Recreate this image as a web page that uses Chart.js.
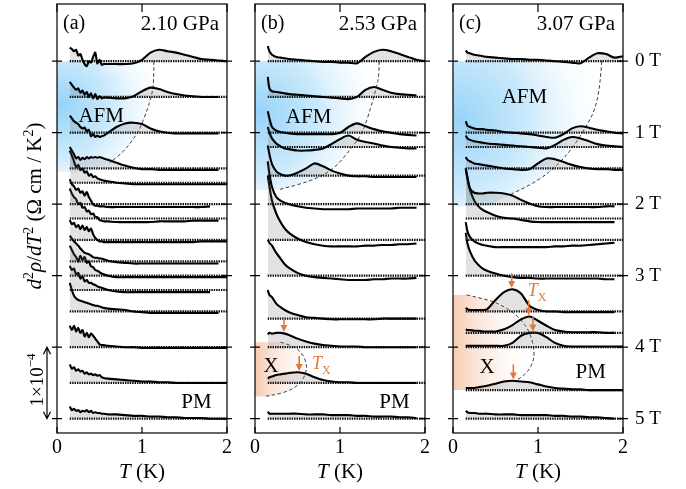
<!DOCTYPE html>
<html>
<head>
<meta charset="utf-8">
<script src="https://cdn.jsdelivr.net/npm/chart.js@4.4.1/dist/chart.umd.min.js"></script>
<style>
  html, body { margin: 0; padding: 0; background: #fff; }
  #wrap { position: relative; width: 686px; height: 489px; overflow: hidden; }
  canvas { position: absolute; top: 0; }
  #ca { left: 0; }
  #cb { left: 240px; }
  #cc { left: 438px; }
</style>
</head>
<body>
<div id="wrap">
  <canvas id="ca" width="240" height="489"></canvas>
  <canvas id="cb" width="198" height="489"></canvas>
  <canvas id="cc" width="248" height="489"></canvas>
</div>
<script>
'use strict'
const SERIF = "'Liberation Serif', 'DejaVu Serif', serif"
const ORANGE = '#e2793a'

// temperature grids (K)
const tGridA = [0.15,0.175,0.2,0.225,0.25,0.275,0.3,0.325,0.35,0.375,0.4,0.425,0.45,0.475,0.5,0.525,0.55,0.6,0.7,0.8,0.9,1.0,1.1,1.2,1.3,1.4,1.5,1.6,1.7,1.8,1.9,2.0]
const tGridBC = [0.15,0.17,0.2,0.25,0.3,0.35,0.4,0.5,0.6,0.7,0.8,0.9,1.0,1.1,1.2,1.3,1.4,1.5,1.6,1.7,1.8,1.9,2.0]

// magnetic field (T) of every trace, each trace sits on its own zero line
const fieldsA = [0,0.5,1.0,1.5,1.7,2.0,2.2,2.5,2.8,3.0,3.2,3.5,4.0,4.5,5.0]
const fieldsB = [0,0.5,1.0,1.2,1.6,2.0,2.5,3.0,3.6,4.0,4.5,5.0]
const fieldsC = [0,1.0,1.2,1.5,2.0,2.2,2.5,3.0,3.5,3.8,4.0,4.6,5.0]

// d2rho/dT2 in units of 1e-4 Ohm cm / K^2, one row per field
const curvesA = [
  [0.19,0.17,0.14,0.16,0.08,0.10,0.02,-0.04,-0.07,0.00,-0.02,0.06,0.12,-0.03,0.02,-0.05,-0.04, -0.04,-0.04,-0.04,-0.03,0.02,0.12,0.16,0.14,0.12,0.09,0.06,0.03,0.02,0.01,0.00],
  [0.21,0.17,0.13,0.10,0.12,0.06,0.09,0.03,0.07,0.00,0.05,-0.02,0.04,-0.03,0.01,-0.02,-0.01, -0.01,-0.02,-0.02,0.01,0.08,0.13,0.11,0.07,0.04,0.02,0.01,0.00,0.00,0.00,null],
  [0.24,0.20,0.16,0.14,0.12,0.08,0.06,0.07,0.02,0.04,-0.05,-0.02,-0.06,-0.04,-0.06,-0.05,-0.04, 0.00,0.08,0.13,0.14,0.12,0.06,0.02,0.00,-0.01,-0.01,-0.01,-0.01,-0.01,-0.01,null],
  [0.30,0.25,0.20,0.14,0.16,0.12,0.15,0.13,0.16,0.14,0.16,0.15,0.16,0.15,0.16,0.15,0.14, 0.12,0.08,0.04,0.01,-0.01,-0.01,-0.02,-0.02,-0.02,-0.02,-0.02,-0.02,-0.02,-0.02,null],
  [0.45,0.38,0.30,0.22,0.25,0.18,0.20,0.14,0.16,0.10,0.12,0.08,0.09,0.06,0.05,0.04,0.03, 0.02,0.00,-0.01,-0.02,-0.02,-0.02,-0.02,-0.02,-0.02,-0.02,-0.02,-0.02,-0.02,-0.02,-0.02],
  [0.35,0.28,0.25,0.20,0.22,0.16,0.18,0.12,0.17,0.10,0.05,0.00,-0.02,-0.02,-0.03,-0.03,-0.03, -0.04,-0.04,-0.04,-0.04,-0.04,-0.04,-0.04,-0.04,-0.04,-0.04,-0.04,-0.04,-0.03,null,null],
  [0.42,0.35,0.30,0.27,0.20,0.22,0.15,0.16,0.10,0.11,0.06,0.07,0.02,0.02,-0.02,-0.03,-0.04, -0.04,-0.05,-0.05,-0.05,-0.05,-0.05,-0.04,-0.04,-0.04,-0.04,-0.03,-0.03,-0.03,-0.03,null],
  [0.28,0.22,0.24,0.18,0.21,0.15,0.20,0.14,0.18,0.12,0.16,0.08,0.03,0.00,-0.02,-0.02,-0.03, -0.03,-0.03,-0.03,-0.03,-0.03,-0.03,-0.03,-0.03,-0.03,-0.03,-0.03,-0.02,-0.02,-0.02,-0.02],
  [0.36,0.32,0.28,0.25,0.22,0.18,0.15,0.12,0.11,0.10,0.08,0.06,0.05,0.05,0.04,0.04,0.03, 0.01,-0.01,-0.02,-0.03,-0.03,-0.03,-0.03,-0.03,-0.03,-0.03,-0.03,-0.03,-0.03,-0.03,null],
  [0.42,0.36,0.30,0.26,0.20,0.28,0.22,0.26,0.18,0.20,0.13,0.12,0.08,0.07,0.05,0.03,0.02, 0.00,-0.02,-0.02,-0.02,-0.02,-0.02,-0.02,-0.02,-0.02,-0.02,-0.02,-0.02,-0.02,-0.02,-0.02],
  [0.34,0.28,0.30,0.22,0.24,0.16,0.19,0.12,0.14,0.10,0.10,0.08,0.07,0.05,0.04,0.03,0.02, 0.00,-0.02,-0.03,-0.03,-0.03,-0.03,-0.03,-0.03,-0.03,-0.03,-0.03,-0.03,-0.03,null,null],
  [0.40,0.30,0.22,0.18,0.16,0.15,0.14,0.13,0.12,0.11,0.10,0.09,0.08,0.08,0.07,0.06,0.05, 0.04,0.03,0.02,0.00,-0.01,-0.02,-0.02,-0.02,-0.02,-0.02,-0.02,-0.02,-0.02,-0.02,null],
  [0.30,0.24,0.30,0.22,0.27,0.20,0.24,0.15,0.20,0.14,0.19,0.16,0.12,0.08,0.04,0.03,0.03, 0.02,0.01,0.00,0.00,-0.01,-0.01,-0.01,-0.01,-0.01,-0.01,-0.01,-0.01,-0.01,-0.01,-0.01],
  [0.26,0.20,0.22,0.17,0.19,0.16,0.17,0.13,0.15,0.12,0.13,0.11,0.12,0.10,0.11,0.08,0.07, 0.06,0.05,0.04,0.03,0.02,0.02,0.01,0.01,0.00,0.00,0.00,0.00,0.00,0.00,0.00],
  [0.17,0.12,0.14,0.11,0.12,0.09,0.11,0.10,0.12,0.09,0.11,0.08,0.09,0.08,0.08,0.07,0.07, 0.06,0.06,0.05,0.04,0.04,0.03,0.03,0.02,0.02,0.01,0.01,0.01,0.00,0.00,0.00]
]
const curvesB = [
  [0.21,0.14,0.09,0.06,0.05,0.04,0.03,0.02,0.01,0.00,-0.01,-0.01,-0.02,-0.02,-0.03,0.06,0.13,0.16,0.14,0.10,0.06,0.02,0.00],
  [0.28,0.12,0.08,0.07,0.06,0.05,0.04,0.03,0.02,0.01,0.00,-0.01,-0.02,-0.03,0.00,0.10,0.14,0.10,0.06,0.04,0.03,0.02,null],
  [0.30,0.20,0.08,0.03,0.01,0.00,-0.01,-0.02,-0.02,-0.02,-0.02,-0.02,0.00,0.08,0.13,0.09,0.05,0.02,0.00,-0.02,-0.03,-0.04,null],
  [0.28,0.20,0.12,0.05,0.01,-0.02,-0.03,-0.05,-0.05,-0.04,-0.02,0.04,0.11,0.16,0.10,0.07,0.05,0.02,0.00,-0.01,-0.02,-0.02,null],
  [0.42,0.30,0.16,0.06,0.02,0.00,0.00,0.04,0.10,0.17,0.13,0.07,0.03,0.00,-0.01,-0.01,-0.02,-0.02,-0.02,-0.02,-0.02,-0.02,null],
  [0.60,0.42,0.24,0.10,0.05,0.02,0.00,-0.03,-0.05,-0.06,-0.07,-0.07,-0.07,-0.07,-0.06,-0.06,-0.06,-0.06,-0.06,-0.05,-0.05,-0.05,null],
  [0.90,0.75,0.55,0.37,0.25,0.16,0.10,0.02,-0.03,-0.06,-0.08,-0.09,-0.09,-0.09,-0.09,-0.08,-0.08,-0.07,-0.07,-0.06,-0.06,-0.05,null],
  [0.50,0.46,0.42,0.32,0.24,0.16,0.11,0.04,0.00,-0.02,-0.03,-0.04,-0.05,-0.06,-0.06,-0.06,-0.05,-0.05,-0.04,-0.04,-0.04,-0.03,null],
  [0.40,0.33,0.30,0.21,0.16,0.12,0.09,0.05,0.02,0.01,0.00,-0.01,-0.01,-0.01,-0.01,-0.01,-0.01,0.00,0.00,0.00,0.00,0.00,null],
  [0.18,0.20,0.19,0.20,0.20,0.19,0.17,0.12,0.08,0.05,0.03,0.02,0.01,0.01,0.01,0.00,0.00,0.00,0.00,0.00,0.00,0.00,null],
  [0.06,0.08,0.09,0.11,0.12,0.13,0.14,0.15,0.13,0.08,0.04,0.02,0.01,0.01,0.00,0.00,0.00,0.00,0.00,0.00,0.00,0.00,null],
  [0.10,0.07,0.07,0.07,0.07,0.07,0.07,0.07,0.06,0.06,0.06,0.05,0.05,0.05,0.04,0.04,0.03,0.03,0.03,0.02,0.02,0.01,null]
]
const curvesC = [
  [0.15,0.12,0.11,0.09,0.08,0.07,0.06,0.05,0.04,0.03,0.03,0.02,0.02,0.01,0.00,-0.01,-0.02,-0.03,0.05,0.11,0.10,0.05,0.07],
  [0.16,0.10,0.08,0.06,0.05,0.05,0.04,0.03,0.01,0.00,-0.01,-0.02,-0.04,-0.06,-0.07,-0.02,0.06,0.09,0.07,0.04,0.02,0.00,-0.01],
  [0.16,0.12,0.10,0.08,0.07,0.06,0.05,0.04,0.03,0.02,0.01,0.00,-0.01,-0.02,0.03,0.10,0.14,0.12,0.08,0.04,0.02,0.01,0.00],
  [0.16,0.12,0.10,0.07,0.06,0.05,0.04,0.02,0.00,-0.01,-0.02,-0.01,0.07,0.14,0.13,0.09,0.05,0.02,0.00,-0.01,-0.01,-0.02,-0.02],
  [0.50,0.38,0.22,0.16,0.15,0.15,0.16,0.16,0.15,0.12,0.06,0.01,-0.03,-0.04,-0.04,-0.04,-0.04,-0.04,-0.04,-0.04,-0.03,-0.03,null],
  [0.70,0.55,0.40,0.25,0.17,0.12,0.09,0.04,0.01,0.00,-0.02,-0.04,-0.05,-0.05,-0.05,-0.05,-0.05,-0.05,-0.05,-0.05,-0.05,-0.05,null],
  [0.25,0.12,0.04,-0.02,-0.05,-0.07,-0.08,-0.10,-0.10,-0.10,-0.10,-0.10,-0.10,-0.10,-0.09,-0.09,-0.08,-0.08,-0.07,-0.06,-0.05,-0.04,null],
  [0.60,0.45,0.34,0.22,0.15,0.10,0.07,0.03,0.00,-0.02,-0.03,-0.03,-0.04,-0.04,-0.04,-0.04,-0.04,-0.04,-0.04,-0.04,-0.05,-0.05,null],
  [0.05,0.03,0.02,0.02,0.02,0.02,0.03,0.16,0.27,0.31,0.25,0.08,0.02,0.00,0.00,-0.01,-0.01,-0.01,-0.01,-0.01,-0.01,-0.01,null],
  [0.05,0.04,0.04,0.03,0.03,0.02,0.02,0.02,0.05,0.11,0.19,0.23,0.17,0.10,0.04,0.02,0.01,0.01,0.01,0.01,0.00,0.00,null],
  [0.02,0.02,0.02,0.02,0.02,0.02,0.02,0.02,0.02,0.06,0.16,0.20,0.20,0.14,0.06,0.02,0.01,0.01,0.01,0.01,0.01,0.01,0.01],
  [0.03,0.03,0.03,0.03,0.04,0.05,0.06,0.09,0.12,0.13,0.12,0.11,0.08,0.05,0.03,0.02,0.01,0.01,0.00,0.00,0.00,0.00,0.00],
  [0.11,0.09,0.08,0.08,0.07,0.07,0.07,0.06,0.06,0.06,0.05,0.05,0.05,0.05,0.04,0.04,0.03,0.03,0.02,0.02,0.01,0.00,null]
]

// phase boundaries as (T, field) points
const afmEdgeA = [[1.14,0],[1.14,0.3],[1.11,0.5],[1.05,0.72],[0.97,0.96],[0.88,1.12],[0.77,1.28],[0.62,1.42]]
const afmEdgeB = [[1.46,0],[1.46,0.21],[1.43,0.35],[1.39,0.54],[1.27,1.0],[1.12,1.24],[0.92,1.52],[0.65,1.68],[0.27,1.8]]
const afmEdgeC = [[1.75,0],[1.73,0.35],[1.67,0.68],[1.57,0.91],[1.42,1.19],[1.26,1.42],[1.02,1.66],[0.67,1.87]]
const xEdgeB = [[0.3,3.93],[0.45,3.98],[0.55,4.08],[0.6,4.2],[0.61,4.3],[0.57,4.45],[0.45,4.59],[0.26,4.66],[0.1,4.69]]
const xEdgeC = [[0.16,3.27],[0.44,3.34],[0.63,3.45],[0.79,3.59],[0.91,3.8],[0.96,4.06],[0.94,4.22],[0.87,4.36],[0.73,4.48]]

// T_X marks (T, field)
const txB = [[0.34,4.0],[0.52,4.5]]
const txC = [[0.69,3.5],[0.89,3.8],[0.94,4.0],[0.71,4.6]]

const tempTicks = [0,1,2]
const fieldTicks = [0,1,2,3,4,5]

const buildDatasets = (tGrid, fields, curves) => {
  const sets = []
  fields.forEach((f, i) => {
    sets.push({
      data: tGrid.map((t, k) => ({x: t, y: curves[i][k] === null ? null : f - curves[i][k]})),
      borderColor: '#000',
      borderWidth: 2.1,
      pointRadius: 0,
      tension: 0.3,
      fill: {target: {value: f}, above: 'rgba(110,110,110,0.2)', below: 'rgba(0,0,0,0)'},
      order: 0
    })
    sets.push({
      data: [{x: tGrid[0], y: f}, {x: 2, y: f}],
      borderColor: '#000',
      borderWidth: 2.2,
      borderDash: [1.4, 1],
      pointRadius: 0,
      fill: false,
      order: 1
    })
  })
  return sets
}

const valueAt = (tGrid, row, T) => {
  for (let k = 0; k < tGrid.length - 1; k++) {
    if (T >= tGrid[k] && T <= tGrid[k + 1]) {
      const u = (T - tGrid[k]) / (tGrid[k + 1] - tGrid[k])
      return row[k] + u * (row[k + 1] - row[k])
    }
  }
  return 0
}

// mixed italic / superscript text
const richText = (ctx, segs, size, x, y, opts = {}) => {
  const parts = segs.map(s => {
    const fs = (s.sup || s.sub) ? Math.round(size * 0.66) : size
    const font = (s.i ? 'italic ' : '') + fs + 'px ' + SERIF
    ctx.font = font
    return {t: s.t, font, w: ctx.measureText(s.t).width, dy: s.sup ? -size * 0.4 : s.sub ? size * 0.25 : 0}
  })
  const total = parts.reduce((a, p) => a + p.w, 0)
  ctx.save()
  ctx.translate(x, y)
  if (opts.rotate) ctx.rotate(opts.rotate)
  let cx = opts.align === 'left' ? 0 : opts.align === 'right' ? -total : -total / 2
  ctx.textBaseline = 'alphabetic'
  ctx.textAlign = 'left'
  ctx.fillStyle = opts.color || '#000'
  parts.forEach(p => { ctx.font = p.font; ctx.fillText(p.t, cx, p.dy); cx += p.w })
  ctx.restore()
}

const smoothTo = (ctx, pts) => {
  ctx.lineTo(pts[0][0], pts[0][1])
  for (let i = 1; i < pts.length - 1; i++) {
    ctx.quadraticCurveTo(pts[i][0], pts[i][1], (pts[i][0] + pts[i + 1][0]) / 2, (pts[i][1] + pts[i + 1][1]) / 2)
  }
  ctx.lineTo(pts[pts.length - 1][0], pts[pts.length - 1][1])
}

const drawRegion = (ctx, xs, ys, r) => {
  const px = r.edge.map(([t, f]) => [xs.getPixelForValue(t), ys.getPixelForValue(f)])
  const x0 = xs.getPixelForValue(0)
  const yTop = ys.getPixelForValue(r.top)
  const yBot = ys.getPixelForValue(r.bottom)
  ctx.beginPath()
  ctx.moveTo(x0 - 2, yTop)
  smoothTo(ctx, px)
  if (r.closeT != null) ctx.lineTo(xs.getPixelForValue(r.closeT), yBot)
  ctx.lineTo(x0 - 2, yBot)
  ctx.closePath()
  let g
  if (r.kind === 'afm') {
    const cx = x0 + 4, cy = yTop + (yBot - yTop) * 0.4
    g = ctx.createRadialGradient(cx, cy, 0, cx, cy, xs.getPixelForValue(r.reach) - x0)
    g.addColorStop(0, 'rgba(150,211,248,1)')
    g.addColorStop(0.45, 'rgba(200,232,251,0.95)')
    g.addColorStop(1, 'rgba(255,255,255,0)')
  } else {
    g = ctx.createLinearGradient(x0, 0, xs.getPixelForValue(r.reach), 0)
    g.addColorStop(0, 'rgba(247,202,176,1)')
    g.addColorStop(1, 'rgba(255,255,255,0)')
  }
  ctx.fillStyle = g
  ctx.fill()
  ctx.beginPath()
  ctx.moveTo(px[0][0], px[0][1])
  smoothTo(ctx, px)
  ctx.setLineDash([3.5, 2.5])
  ctx.lineWidth = 0.9
  ctx.strokeStyle = '#222'
  ctx.stroke()
  ctx.setLineDash([])
}

const arrowDown = (ctx, x, yTip, len, color) => {
  ctx.strokeStyle = color
  ctx.fillStyle = color
  ctx.lineWidth = 1.6
  ctx.beginPath()
  ctx.moveTo(x, yTip - len)
  ctx.lineTo(x, yTip - 5)
  ctx.stroke()
  ctx.beginPath()
  ctx.moveTo(x, yTip)
  ctx.lineTo(x - 3.5, yTip - 7)
  ctx.lineTo(x + 3.5, yTip - 7)
  ctx.closePath()
  ctx.fill()
}

const makeDeco = (cfg) => ({
  id: 'deco',
  beforeDatasetsDraw(chart) {
    const {ctx, chartArea: a} = chart
    const xs = chart.scales.x, ys = chart.scales.y
    ctx.save()
    ctx.beginPath()
    ctx.rect(a.left, a.top, a.right - a.left, a.bottom - a.top)
    ctx.clip()
    cfg.regions.forEach(r => drawRegion(ctx, xs, ys, r))
    ctx.restore()
  },
  afterDatasetsDraw(chart) {
    const {ctx, chartArea: a} = chart
    const xs = chart.scales.x, ys = chart.scales.y
    ctx.save()
    // frame and ticks
    ctx.strokeStyle = '#000'
    ctx.lineWidth = 1.2
    ctx.strokeRect(a.left, a.top, a.right - a.left, a.bottom - a.top)
    ctx.beginPath()
    tempTicks.forEach(v => {
      const x = xs.getPixelForValue(v)
      ctx.moveTo(x, a.top); ctx.lineTo(x, a.top + 8)
      ctx.moveTo(x, a.bottom); ctx.lineTo(x, a.bottom - 6)
    })
    fieldTicks.forEach(v => {
      const y = ys.getPixelForValue(v)
      ctx.moveTo(a.left - 5, y); ctx.lineTo(a.left + 5, y)
      ctx.moveTo(a.right - 5, y); ctx.lineTo(a.right + 5, y)
    })
    ctx.stroke()
    // panel header
    richText(ctx, [{t: cfg.tag}], 20, a.left + 6, 29, {align: 'left'})
    richText(ctx, [{t: cfg.pressure}], 21, a.right - 8, 30, {align: 'right'})
    // phase labels
    cfg.labels.forEach(l => {
      richText(ctx, l.segs, l.size, xs.getPixelForValue(l.T), ys.getPixelForValue(l.f), {align: l.align || 'center', color: l.color})
    })
    // T_X arrows
    cfg.tx.forEach(([T, f]) => {
      const i = cfg.fields.indexOf(f)
      const v = valueAt(cfg.tGrid, cfg.curves[i], T)
      arrowDown(ctx, xs.getPixelForValue(T), ys.getPixelForValue(f - v) - 1.5, 15, ORANGE)
    })
    ctx.restore()
  },
  afterDraw(chart) {
    const {ctx} = chart
    const xs = chart.scales.x, ys = chart.scales.y
    richText(ctx, [{t: 'T', i: true}, {t: ' (K)'}], 21, xs.getPixelForValue(1), 478)
    if (cfg.yTitle) {
      richText(ctx, [
        {t: 'd', i: true}, {t: '2', sup: true}, {t: 'ρ', i: true}, {t: '/'}, {t: 'dT', i: true}, {t: '2', sup: true},
        {t: ' (Ω cm / K'}, {t: '2', sup: true}, {t: ')'}
      ], 21, 41, 206, {rotate: -Math.PI / 2})
      richText(ctx, [{t: '1×10'}, {t: '−4', sup: true}], 19, 43, 380, {rotate: -Math.PI / 2})
      // scale bar: one unit of 1e-4 equals one tesla of offset
      const x = 47, y1 = ys.getPixelForValue(4), y2 = ys.getPixelForValue(5)
      ctx.save()
      ctx.strokeStyle = '#000'
      ctx.lineWidth = 1.2
      ctx.beginPath()
      ctx.moveTo(x, y1); ctx.lineTo(x, y2)
      ctx.moveTo(x - 3.5, y1 + 7); ctx.lineTo(x, y1); ctx.lineTo(x + 3.5, y1 + 7)
      ctx.moveTo(x - 3.5, y2 - 7); ctx.lineTo(x, y2); ctx.lineTo(x + 3.5, y2 - 7)
      ctx.stroke()
      ctx.restore()
    }
  }
})

// keep the plot frame fixed: no extra room reserved for edge labels
const noEdgePadding = s => { s.paddingTop = 0; s.paddingBottom = 0; s.paddingLeft = 0; s.paddingRight = 0 }

const makeChart = (id, cfg) => {
  const scales = {
    x: {
      type: 'linear', min: 0, max: 2, position: 'bottom',
      afterBuildTicks: s => { s.ticks = tempTicks.map(v => ({value: v})) },
      ticks: {font: {family: SERIF, size: 20}, color: '#000', padding: 3, maxRotation: 0, autoSkip: false},
      grid: {display: false, drawTicks: false},
      border: {display: false},
      afterFit: s => { s.height = 56; noEdgePadding(s) }
    },
    y: {
      type: 'linear', min: -0.8, max: 5.2, reverse: true, position: 'left',
      ticks: {display: false},
      grid: {display: false, drawTicks: false},
      border: {display: false},
      afterFit: s => { s.width = cfg.leftW; noEdgePadding(s) }
    }
  }
  if (cfg.rightLabels) {
    scales.yR = {
      type: 'linear', min: -0.8, max: 5.2, reverse: true, position: 'right',
      afterBuildTicks: s => { s.ticks = fieldTicks.map(v => ({value: v})) },
      ticks: {font: {family: SERIF, size: 19}, color: '#000', padding: 12, callback: v => v + ' T'},
      grid: {display: false, drawTicks: false},
      border: {display: false},
      afterFit: s => { s.width = 63; noEdgePadding(s) }
    }
  }
  return new Chart(document.getElementById(id), {
    type: 'line',
    data: {datasets: buildDatasets(cfg.tGrid, cfg.fields, cfg.curves)},
    options: {
      responsive: false,
      animation: false,
      events: [],
      layout: {autoPadding: false, padding: {top: 4, right: cfg.rightPad, left: 0, bottom: 0}},
      plugins: {legend: {display: false}, tooltip: {enabled: false}},
      scales
    },
    plugins: [makeDeco(cfg)]
  })
}

const txLabel = (T, f) => ({segs: [{t: 'T', i: true}, {t: 'X', sub: true}], size: 18, T, f, align: 'left', color: ORANGE})

makeChart('ca', {
  tGrid: tGridA, fields: fieldsA, curves: curvesA, leftW: 57, rightPad: 13,
  tag: '(a)', pressure: '2.10 GPa', yTitle: true, tx: [],
  regions: [{kind: 'afm', edge: afmEdgeA, top: 0, bottom: 1.55, closeT: 0.35, reach: 1.3}],
  labels: [
    {segs: [{t: 'AFM'}], size: 21, T: 0.52, f: 0.85},
    {segs: [{t: 'PM'}], size: 21, T: 1.64, f: 4.85}
  ]
})

makeChart('cb', {
  tGrid: tGridBC, fields: fieldsB, curves: curvesB, leftW: 15, rightPad: 13,
  tag: '(b)', pressure: '2.53 GPa', tx: txB,
  regions: [
    {kind: 'afm', edge: afmEdgeB, top: 0, bottom: 1.8, reach: 1.55},
    {kind: 'x', edge: xEdgeB, top: 3.93, bottom: 4.69, reach: 0.75}
  ],
  labels: [
    {segs: [{t: 'AFM'}], size: 21, T: 0.63, f: 0.86},
    {segs: [{t: 'PM'}], size: 21, T: 1.64, f: 4.85},
    {segs: [{t: 'X'}], size: 21, T: 0.19, f: 4.34},
    txLabel(0.67, 4.31)
  ]
})

makeChart('cc', {
  tGrid: tGridBC, fields: fieldsC, curves: curvesC, leftW: 15, rightPad: 0, rightLabels: true,
  tag: '(c)', pressure: '3.07 GPa', tx: txC,
  regions: [
    {kind: 'afm', edge: afmEdgeC, top: 0, bottom: 2.03, closeT: 0.4, reach: 1.85},
    {kind: 'x', edge: xEdgeC, top: 3.27, bottom: 4.6, closeT: 0.55, reach: 0.95}
  ],
  labels: [
    {segs: [{t: 'AFM'}], size: 21, T: 0.84, f: 0.58},
    {segs: [{t: 'PM'}], size: 21, T: 1.62, f: 4.43},
    {segs: [{t: 'X'}], size: 21, T: 0.4, f: 4.36},
    txLabel(0.88, 3.29)
  ]
})
</script>
</body>
</html>
